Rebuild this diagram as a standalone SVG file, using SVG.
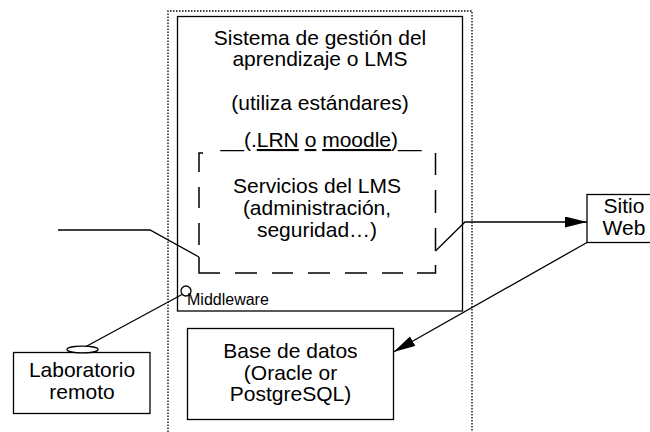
<svg xmlns="http://www.w3.org/2000/svg" width="650" height="432" viewBox="0 0 650 432">
  <defs>
    <marker id="arrow" markerUnits="userSpaceOnUse" markerWidth="23" markerHeight="12" refX="22" refY="5.5" orient="auto">
      <path d="M0,0 L22,5.5 L0,11 Z" fill="#000"/>
    </marker>
    <style>
      text { font-family: "Liberation Sans", Arial, sans-serif; fill: #000; }
      .lbl { font-size: 21px; text-anchor: middle; }
      .small { font-size: 16px; }
      .box { fill: #fff; stroke: #000; stroke-width: 1.3; }
      .frame { fill: none; stroke: #000; stroke-width: 1.3; }
      .dots { fill: none; stroke: #000; stroke-width: 1.3; stroke-dasharray: 1.5 1.5; }
      .dash { fill: none; stroke: #000; stroke-width: 1.5; }
      .wire { fill: none; stroke: #000; stroke-width: 1.3; }
    </style>
  </defs>

  <!-- server boundary (dotted, open at the bottom) -->
  <path class="dots" d="M168,432 V11 H472 V432"/>

  <!-- LMS -->
  <g id="lms">
    <rect class="frame" x="177.5" y="16.5" width="285" height="294.5"/>
    <text class="lbl" x="320" y="44.5">Sistema de gestión del</text>
    <text class="lbl" x="320" y="66">aprendizaje o LMS</text>
    <text class="lbl" x="320" y="110">(utiliza estándares)</text>
    <text class="lbl" x="321" y="147">__(.<tspan text-decoration="underline">LRN</tspan> <tspan text-decoration="underline">o</tspan> <tspan text-decoration="underline">moodle</tspan>)__</text>
  </g>

  <!-- LMS services (dashed box) -->
  <g id="servicios">
    <path class="dash" d="M203,153 H199 V172 M199,187 V208 M199,223 V245 M199,257 V273 H220 M235,273 H257 M272,273 H293 M308,273 H330 M345,273 H367 M382,273 H403 M417,273 H435.5 V265 M435.5,251 V228 M435.5,213 V190 M435.5,175 V153"/>
    <text class="lbl" x="317" y="193">Servicios del LMS</text>
    <text class="lbl" x="317" y="215">(administración,</text>
    <text class="lbl" x="317" y="237">seguridad…)</text>
  </g>

  <!-- middleware port -->
  <g id="middleware">
    <circle cx="186" cy="291" r="5" fill="none" stroke="#000" stroke-width="1.3"/>
    <text class="small" x="187" y="305">Middleware</text>
  </g>

  <!-- database -->
  <g id="base-datos">
    <rect class="box" x="187.5" y="328.5" width="206" height="91"/>
    <text class="lbl" x="290.5" y="358">Base de datos</text>
    <text class="lbl" x="290.5" y="379.5">(Oracle or</text>
    <text class="lbl" x="290.5" y="401">PostgreSQL)</text>
  </g>

  <!-- web site -->
  <g id="sitio-web">
    <rect class="box" x="587" y="194.5" width="75" height="48"/>
    <text class="lbl" x="624" y="213">Sitio</text>
    <text class="lbl" x="624" y="235">Web</text>
  </g>

  <!-- remote lab -->
  <g id="laboratorio">
    <rect class="box" x="13.5" y="352.5" width="136.5" height="61"/>
    <ellipse cx="82.5" cy="349.5" rx="15.5" ry="3.3" fill="#fff" stroke="#000" stroke-width="1.3"/>
    <text class="lbl" x="82" y="377">Laboratorio</text>
    <text class="lbl" x="82" y="398.5">remoto</text>
  </g>

  <!-- connectors -->
  <g id="connectors">
    <polyline class="wire" points="58,230 150,230 199,257"/>
    <polyline class="wire" points="435.5,251 465,222 587,222" marker-end="url(#arrow)"/>
    <line class="wire" x1="587" y1="242.5" x2="393.5" y2="352" marker-end="url(#arrow)"/>
    <line class="wire" x1="182" y1="294.5" x2="86" y2="346.5"/>
  </g>
</svg>
